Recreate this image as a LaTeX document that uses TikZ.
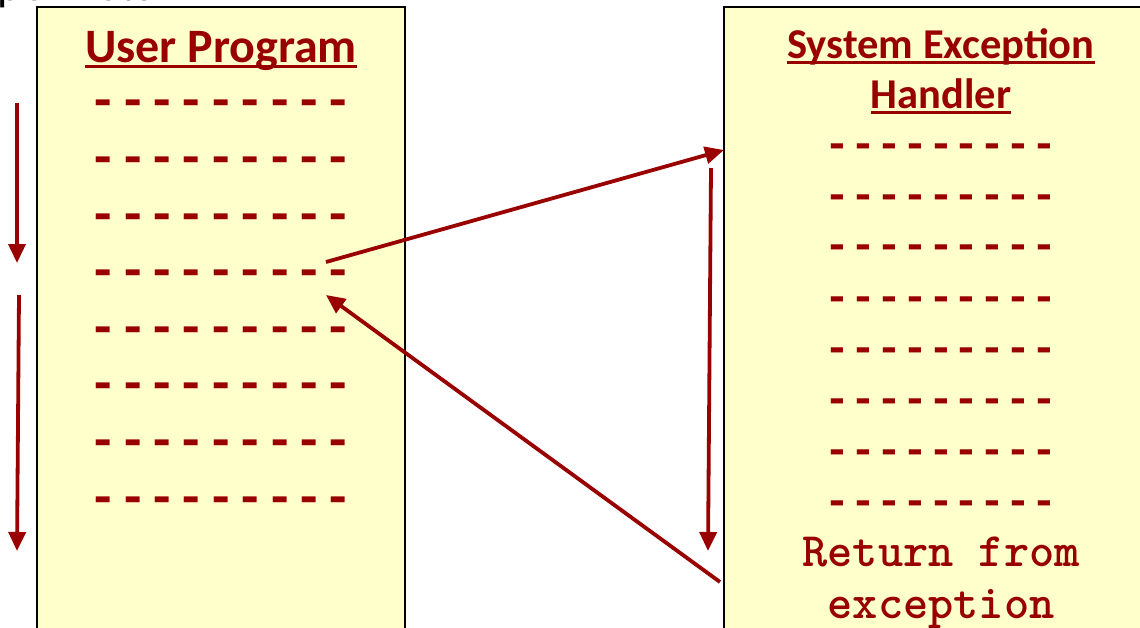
\documentclass[tikz,border=0pt]{standalone}
\usepackage{fontspec}
\setmainfont{Carlito}
\newfontfamily\codefont{Liberation Mono}
\usetikzlibrary{arrows.meta}
\definecolor{dred}{HTML}{990000}
\definecolor{paper}{HTML}{FFFFCC}
\newcommand\ulin[1]{\setbox0\hbox{#1}\rlap{\copy0}\rule[-6pt]{\wd0}{2.8pt}}
\begin{document}
\begin{tikzpicture}[x=1pt,y=-1pt,
  panel/.style={draw=black,line width=2pt,fill=paper},
  heading/.style={anchor=base,text=dred,font=\fontsize{#1}{#1}\selectfont\bfseries,inner sep=0pt},
  codeline/.style={anchor=base,text=dred,font=\fontsize{#1}{#1}\selectfont\codefont\bfseries,inner sep=0pt},
  retline/.style={anchor=base,text=dred,font=\fontsize{#1}{#1}\selectfont\ttfamily\bfseries,inner sep=0pt},
  flow/.style={draw=dred,line width=3.8pt,-{Triangle[length=19pt,width=17pt]}}]
\useasboundingbox (0,0) rectangle (1140,627);
\clip (0,0) rectangle (1140,627);
\fill[white] (0,0) rectangle (1140,627);
% tail of the caption line above
\node[anchor=base east,inner sep=0pt,font=\fontsize{46}{50}\selectfont] (cap) at (199,0.8) {upon return};
% the two panels
\draw[panel] (37,7) rectangle (405,640);
\draw[panel] (724,7) rectangle (1150,640);
% user program
\node[heading=48] (ut) at (221,62) {\ulin{User Program}};
\foreach \i/\y in {1/102,2/159,3/216,4/272,5/329,6/385,7/442,8/499}
  \node[codeline=49] (u\i) at (221,\y+13) {---------};
% exception handler
\node[heading=42.5] (ht1) at (941,58) {\ulin{System Exception}};
\node[heading=42.5] (ht2) at (941,108) {\ulin{Handler}};
\foreach \i/\y in {1/145,2/196,3/246,4/298,5/349,6/400,7/451,8/502}
  \node[codeline=43] (h\i) at (941,\y+12) {---------};
\node[retline=48] (r1) at (941,566) {Return from};
\node[retline=48] (r2) at (941,618) {exception};
% control flow
\coordinate (a1s) at (17,103);
\coordinate (a1e) at (17,263);
\coordinate (a2s) at (19,295);
\coordinate (a2e) at (17,551);
\draw[flow] (a1s) -- (a1e);
\draw[flow] (a2s) -- (a2e);
\coordinate (exc) at (326,262);
\coordinate (hin) at (724,150);
\draw[flow] (exc) -- (hin);
\coordinate (hs) at (711,168);
\coordinate (he) at (708,551);
\draw[flow] (hs) -- (he);
\coordinate (ret) at (720,582);
\coordinate (back) at (326,295);
\draw[flow] (ret) -- (back);
\end{tikzpicture}
\end{document}
